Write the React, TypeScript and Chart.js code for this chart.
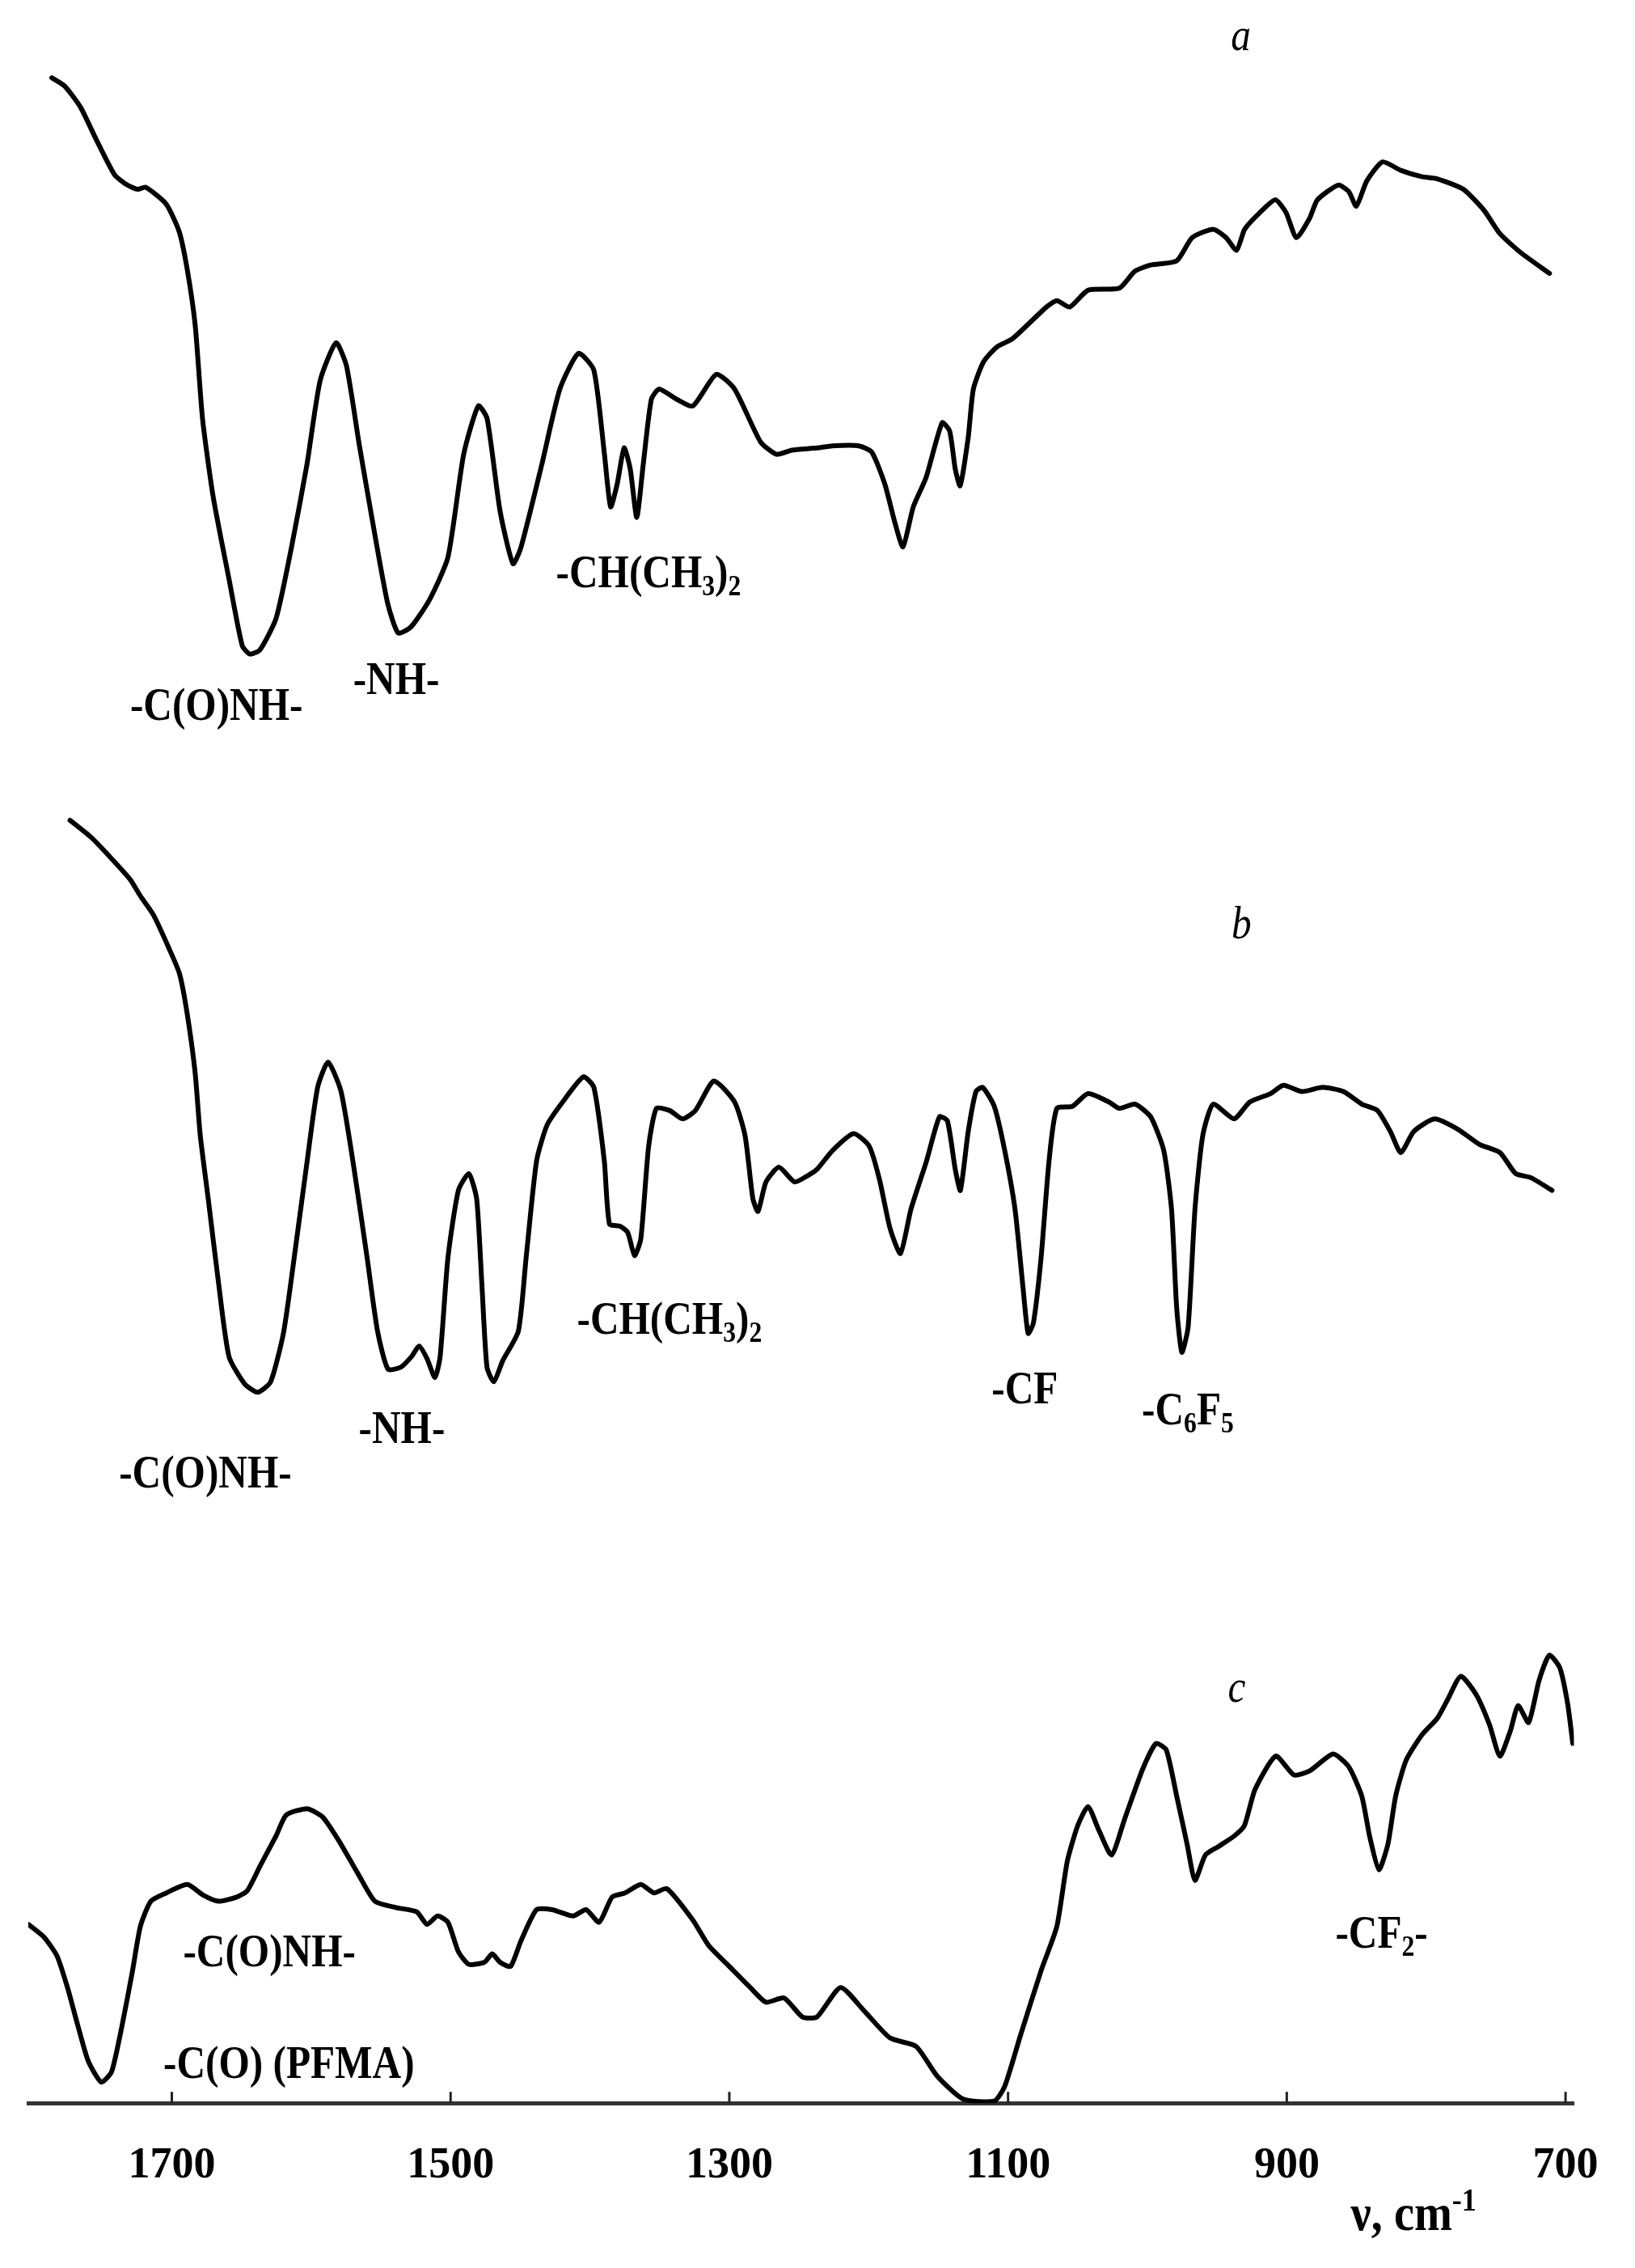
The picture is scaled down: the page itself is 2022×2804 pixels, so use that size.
import React, { useEffect, useRef } from "react";
import { Chart, registerables } from "chart.js";

Chart.register(...registerables);

// ---------- axis ----------
const X_MIN = 694;
const X_MAX = 1803;
const X_TICKS = [1700, 1500, 1300, 1100, 900, 700];

// ---------- spectrum a ----------
const A_NU = [1786.1, 1776.8, 1765.5, 1754.5, 1741.2, 1731.9, 1724.4, 1718.9, 1704.1, 1694.8, 1689.0, 1683.2, 1678.0, 1670.4, 1658.8, 1649.5, 1644.0, 1636.8, 1625.2, 1614.1, 1603.1, 1593.6, 1582.2, 1574.7, 1565.4, 1554.4, 1545.1, 1537.6, 1528.3, 1515.0, 1501.9, 1490.6, 1480.1, 1473.8, 1464.5, 1455.2, 1449.4, 1434.6, 1421.6, 1408.2, 1397.2, 1389.6, 1385.2, 1380.4, 1375.5, 1371.1, 1366.4, 1361.8, 1356.0, 1350.4, 1337.4, 1326.1, 1309.3, 1296.2, 1277.7, 1266.2, 1255.0, 1237.1, 1226.0, 1207.1, 1197.8, 1188.5, 1181.0, 1175.4, 1168.0, 1158.8, 1147.3, 1141.9, 1137.9, 1134.4, 1128.6, 1124.9, 1117.6, 1108.1, 1096.7, 1072.5, 1065.0, 1055.7, 1042.7, 1020.1, 1009.1, 997.7, 979.0, 967.9, 952.8, 943.6, 936.0, 930.2, 919.2, 908.2, 900.6, 893.1, 883.8, 878.0, 863.1, 855.6, 850.1, 842.6, 831.3, 818.2, 803.2, 792.1, 773.3, 758.5, 747.2, 732.4, 711.5];
const A_T = [96.3, 95.9, 94.9, 93.4, 91.7, 91.2, 91.0, 91.1, 90.3, 89.0, 87.2, 84.5, 80.1, 76.4, 72.4, 69.3, 68.9, 69.1, 70.6, 74.0, 77.9, 81.9, 83.7, 82.6, 78.8, 74.6, 71.3, 69.9, 70.2, 71.5, 73.5, 78.4, 80.7, 80.1, 75.7, 73.2, 74.0, 77.9, 81.5, 83.2, 82.4, 78.4, 75.9, 77.0, 78.7, 77.7, 75.4, 77.9, 81.0, 81.5, 81.0, 80.7, 82.2, 81.5, 79.0, 78.4, 78.6, 78.7, 78.8, 78.8, 78.5, 77.0, 75.1, 74.0, 75.9, 77.3, 79.9, 79.5, 77.7, 76.9, 79.2, 81.5, 82.8, 83.5, 83.9, 85.4, 85.7, 85.4, 86.2, 86.3, 87.1, 87.4, 87.6, 88.7, 89.1, 88.7, 88.1, 89.1, 89.9, 90.5, 89.9, 88.7, 89.6, 90.5, 91.2, 90.9, 90.2, 91.4, 92.3, 91.9, 91.6, 91.5, 91.0, 90.0, 88.9, 88.0, 87.0];

// ---------- spectrum b ----------
const B_NU = [1773.1, 1758.1, 1745.0, 1730.1, 1722.6, 1713.2, 1702.0, 1694.5, 1689.0, 1683.3, 1679.6, 1673.9, 1666.5, 1659.0, 1647.8, 1638.4, 1629.1, 1619.7, 1610.4, 1602.9, 1595.4, 1587.9, 1578.6, 1569.2, 1559.9, 1552.4, 1544.9, 1535.5, 1528.0, 1522.5, 1516.9, 1511.2, 1507.5, 1501.9, 1494.4, 1486.9, 1481.3, 1477.6, 1473.9, 1469.0, 1462.6, 1451.4, 1445.8, 1438.3, 1430.8, 1419.6, 1404.7, 1397.2, 1389.7, 1386.0, 1378.4, 1372.9, 1368.0, 1363.5, 1357.9, 1352.3, 1342.9, 1333.6, 1324.3, 1311.1, 1296.2, 1288.7, 1283.1, 1279.4, 1273.7, 1264.4, 1253.2, 1243.8, 1237.1, 1225.9, 1210.9, 1199.6, 1192.2, 1184.7, 1177.2, 1169.7, 1158.5, 1149.2, 1143.5, 1137.9, 1134.2, 1128.6, 1123.0, 1118.2, 1109.9, 1102.4, 1095.0, 1089.3, 1085.6, 1081.8, 1076.3, 1070.6, 1065.0, 1053.8, 1042.6, 1027.6, 1020.1, 1008.9, 997.7, 988.3, 982.7, 979.0, 975.3, 970.8, 965.9, 960.3, 952.8, 937.9, 926.6, 911.7, 902.4, 889.2, 874.3, 859.3, 846.2, 835.0, 825.7, 818.2, 808.9, 793.9, 777.1, 762.1, 747.1, 735.8, 724.7, 709.7];
const B_T = [61.0, 60.2, 59.3, 58.2, 57.4, 56.5, 54.9, 53.7, 51.8, 49.0, 46.0, 43.0, 39.0, 35.5, 34.2, 33.8, 34.3, 36.7, 41.1, 44.8, 48.3, 49.5, 48.1, 44.4, 40.2, 36.7, 34.9, 35.0, 35.5, 36.0, 35.4, 34.5, 35.5, 40.2, 43.4, 44.2, 43.0, 39.0, 35.0, 34.3, 35.3, 36.7, 40.2, 44.8, 46.5, 47.6, 48.8, 48.3, 44.8, 41.8, 41.7, 41.4, 40.3, 41.1, 45.5, 47.3, 47.2, 46.8, 47.2, 48.6, 47.6, 46.0, 43.0, 42.4, 43.8, 44.5, 43.8, 44.1, 44.4, 45.3, 46.1, 45.5, 43.9, 41.6, 40.4, 42.5, 44.8, 46.9, 46.7, 44.4, 43.4, 46.2, 48.1, 48.3, 47.4, 45.3, 42.5, 38.8, 36.6, 37.1, 40.2, 44.8, 47.3, 47.4, 48.0, 47.6, 47.3, 47.5, 46.9, 45.3, 42.5, 37.8, 35.7, 36.9, 42.5, 46.0, 47.5, 46.8, 47.6, 48.0, 48.4, 48.1, 48.3, 48.1, 47.5, 47.2, 46.2, 45.2, 46.2, 46.8, 46.3, 45.6, 45.2, 44.2, 44.0, 43.4];

// ---------- spectrum c ----------
const C_NU = [1803.0, 1791.8, 1782.4, 1774.9, 1767.5, 1760.0, 1750.6, 1743.2, 1735.7, 1728.2, 1722.6, 1715.1, 1703.9, 1688.9, 1677.7, 1666.5, 1653.4, 1645.9, 1636.5, 1625.3, 1617.9, 1602.9, 1591.7, 1580.4, 1565.5, 1554.3, 1539.3, 1524.3, 1516.9, 1509.4, 1501.9, 1494.4, 1486.9, 1475.7, 1470.1, 1464.5, 1457.0, 1449.6, 1438.3, 1427.1, 1412.1, 1402.8, 1393.4, 1384.1, 1374.7, 1363.5, 1354.1, 1344.8, 1326.1, 1314.9, 1300.0, 1285.0, 1273.7, 1260.7, 1247.6, 1237.1, 1220.2, 1203.4, 1184.7, 1166.0, 1151.0, 1132.4, 1109.9, 1102.4, 1091.2, 1076.3, 1065.0, 1057.5, 1050.0, 1042.6, 1035.0, 1025.7, 1016.4, 1003.3, 993.9, 986.5, 979.0, 971.5, 965.9, 958.4, 949.1, 937.8, 930.4, 922.9, 907.9, 894.8, 883.6, 866.8, 855.6, 846.2, 840.6, 833.9, 827.5, 821.9, 814.4, 803.2, 792.0, 784.5, 775.1, 763.9, 754.6, 747.1, 739.6, 734.0, 726.5, 719.0, 711.6, 704.1, 698.5, 694.8];
const C_T = [8.5, 7.9, 7.0, 5.5, 3.7, 2.0, 1.0, 1.5, 3.7, 6.3, 8.4, 9.6, 10.0, 10.4, 9.9, 9.6, 9.8, 10.1, 11.3, 12.7, 13.7, 14.0, 13.6, 12.5, 10.8, 9.6, 9.3, 9.1, 8.5, 8.9, 8.6, 7.2, 6.6, 6.7, 7.1, 6.7, 6.5, 7.7, 9.2, 9.2, 8.9, 9.2, 8.6, 9.8, 10.0, 10.4, 10.0, 10.2, 8.7, 7.5, 6.5, 5.5, 4.8, 5.0, 4.1, 4.1, 5.5, 4.4, 3.1, 2.7, 1.3, 0.2, 0.1, 0.8, 3.2, 6.3, 8.4, 11.5, 13.2, 14.1, 13.0, 11.8, 13.5, 15.9, 17.1, 16.8, 14.6, 12.3, 10.6, 11.8, 12.2, 12.7, 13.2, 14.9, 16.5, 15.6, 15.8, 16.6, 16.0, 14.6, 12.7, 11.1, 12.3, 14.6, 16.3, 17.5, 18.3, 19.2, 20.3, 19.4, 18.0, 16.5, 17.7, 18.9, 18.1, 20.1, 21.3, 20.7, 19.0, 17.1];

// ---------- text ----------
// segment kind: 0 normal, 1 subscript, 2 superscript
type Seg = [string, number];
const CH_ISO: Seg[] = [["-CH(CH", 0], ["3", 1], [")", 0], ["2", 1]];
const PEAK_LABELS: { segs: Seg[]; nu: number; y: number }[] = [
  { segs: [["-C(O)NH-", 0]], nu: 1668, y: 66.5 },
  { segs: [["-NH-", 0]], nu: 1539, y: 67.7 },
  { segs: CH_ISO, nu: 1358, y: 72.8 },
  { segs: [["-C(O)NH-", 0]], nu: 1676, y: 30.0 },
  { segs: [["-NH-", 0]], nu: 1535, y: 32.1 },
  { segs: CH_ISO, nu: 1343, y: 37.3 },
  { segs: [["-CF", 0]], nu: 1088, y: 34.0 },
  { segs: [["-C", 0], ["6", 1], ["F", 0], ["5", 1]], nu: 971, y: 33.0 },
  { segs: [["-C(O)NH-", 0]], nu: 1630, y: 7.2 },
  { segs: [["-C(O) (PFMA)", 0]], nu: 1616, y: 1.9 },
  { segs: [["-CF", 0], ["2", 1], ["-", 0]], nu: 832, y: 8.1 },
];
const PANEL_LETTERS = ["a", "b", "c"];
const PANEL_LETTER_NU = [933, 932.5, 936];
const PANEL_LETTER_BASE = [97.6, 55.4, 19.1];
const AXIS_TITLE: Seg[] = [["ν, cm", 0], ["-1", 2]];

const SERIF = '"Liberation Serif", "Times New Roman", serif';
const SQUEEZE = 0.88;
const LABEL_SIZE = 56;

function drawSegs(ctx: CanvasRenderingContext2D, segs: Seg[], cx: number, baseline: number, size: number, style: string) {
  ctx.save();
  ctx.translate(cx, baseline);
  ctx.scale(SQUEEZE, 1);
  const main = `${style} ${size}px ${SERIF}`;
  const small = `${style} ${Math.round(size * 0.64)}px ${SERIF}`;
  let total = 0;
  for (const [t, k] of segs) {
    ctx.font = k ? small : main;
    total += ctx.measureText(t).width;
  }
  let x = -total / 2;
  ctx.textAlign = "left";
  ctx.textBaseline = "alphabetic";
  for (const [t, k] of segs) {
    ctx.font = k ? small : main;
    const dy = k === 1 ? size * 0.18 : k === 2 ? -size * 0.38 : 0;
    ctx.fillText(t, x, dy);
    x += ctx.measureText(t).width;
  }
  ctx.restore();
}

const annotationPlugin = {
  id: "irAnnotations",
  beforeDatasetsDraw(chart: any) {
    const { ctx, chartArea, scales } = chart;
    ctx.save();
    ctx.strokeStyle = "#222";
    ctx.lineWidth = 3;
    for (const v of X_TICKS) {
      const px = scales.x.getPixelForValue(v);
      ctx.beginPath();
      ctx.moveTo(px, chartArea.bottom);
      ctx.lineTo(px, chartArea.bottom - 14);
      ctx.stroke();
    }
    ctx.restore();
  },
  afterDraw(chart: any) {
    const { ctx, chartArea, scales } = chart;
    const xs = scales.x;
    const ys = scales.y;
    ctx.save();
    ctx.fillStyle = "#000";
    for (const l of PEAK_LABELS) {
      drawSegs(ctx, l.segs, xs.getPixelForValue(l.nu), ys.getPixelForValue(l.y) + 0.33 * LABEL_SIZE, LABEL_SIZE, "bold");
    }
    PANEL_LETTERS.forEach((t, i) => {
      drawSegs(ctx, [[t, 0]], xs.getPixelForValue(PANEL_LETTER_NU[i]), ys.getPixelForValue(PANEL_LETTER_BASE[i]), 56, "italic");
    });
    drawSegs(ctx, AXIS_TITLE, xs.getPixelForValue(809), chartArea.bottom + 157, 64, "bold");
    ctx.restore();
  },
};

export default function App() {
  const ref = useRef<HTMLCanvasElement>(null);
  useEffect(() => {
    document.body.style.margin = "0";
    const canvas = ref.current;
    if (!canvas) return;
    const mk = (nu: number[], t: number[]) => nu.map((x, i) => ({ x, y: t[i] }));
    const ds = (label: string, nu: number[], t: number[]) => ({
      label,
      data: mk(nu, t),
      borderColor: "#000",
      borderWidth: 6,
      pointRadius: 0,
      tension: 0.2,
      fill: false,
      borderJoinStyle: "round",
      borderCapStyle: "round",
    });
    const chart = new Chart(canvas, {
      type: "line",
      data: { datasets: [ds("a", A_NU, A_T), ds("b", B_NU, B_T), ds("c", C_NU, C_T)] as any },
      options: {
        animation: false,
        responsive: false,
        devicePixelRatio: 1,
        events: [],
        layout: { padding: { left: 35, right: 75, top: 0, bottom: 49 } },
        plugins: { legend: { display: false }, tooltip: { enabled: false } },
        scales: {
          x: {
            type: "linear",
            reverse: true,
            min: X_MIN,
            max: X_MAX,
            afterBuildTicks: (axis: any) => {
              axis.ticks = X_TICKS.map((v) => ({ value: v }));
            },
            grid: { display: false, drawTicks: false },
            border: { display: true, color: "#333", width: 5 },
            ticks: {
              padding: 45,
              maxRotation: 0,
              autoSkip: false,
              color: "#000",
              font: { family: SERIF, size: 54, weight: "bold" },
              callback: (v: any) => String(v),
            },
          },
          y: { display: false, min: 0, max: 100 },
        },
      } as any,
      plugins: [annotationPlugin],
    });
    return () => chart.destroy();
  }, []);
  return (
    <div style={{ position: "absolute", left: 0, top: 0, width: 2022, height: 2804, background: "#fff" }}>
      <canvas ref={ref} width={2022} height={2804} style={{ display: "block", width: 2022, height: 2804 }} />
    </div>
  );
}
